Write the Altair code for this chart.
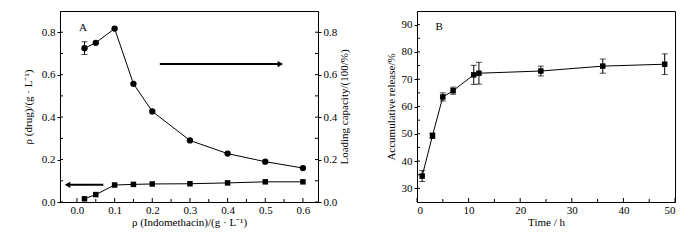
import altair as alt
import pandas as pd

# ---------------- data ----------------
conc = [0.02, 0.05, 0.1, 0.15, 0.2, 0.3, 0.4, 0.5, 0.6]
loading = [0.725, 0.75, 0.817, 0.557, 0.427, 0.29, 0.228, 0.19, 0.16]
loading_err = [0.03, 0, 0, 0, 0, 0, 0, 0, 0]
drug = [0.015, 0.035, 0.08, 0.083, 0.085, 0.086, 0.09, 0.095, 0.095]

time_h = [1, 3, 5, 7, 11, 12, 24, 36, 48]
release = [34.5, 49.3, 63.5, 65.8, 71.6, 72.2, 73.0, 74.8, 75.5]
release_err = [2.0, 1.0, 1.5, 1.3, 3.5, 4.0, 1.8, 2.6, 3.8]

a_xmajor = [0.0, 0.1, 0.2, 0.3, 0.4, 0.5, 0.6]
a_xminor = [0.05, 0.15, 0.25, 0.35, 0.45, 0.55]
a_ymajor = [0.0, 0.2, 0.4, 0.6, 0.8]
a_yminor = [0.1, 0.3, 0.5, 0.7]
b_xmajor = [0, 10, 20, 30, 40, 50]
b_xminor = [5, 15, 25, 35, 45]
b_ymajor = [30, 40, 50, 60, 70, 80, 90]
b_yminor = [35, 45, 55, 65, 75, 85]

arrow_right = {"x": [0.22, 0.54], "y": [0.65, 0.65]}
arrow_left = {"x": [0.07, -0.025], "y": [0.081, 0.081]}

W, H = 258, 191
FONT = "Liberation Serif"

# ---------------- panel A ----------------
xa = alt.Scale(domain=[-0.045, 0.64], nice=False, zero=False)
ya = alt.Scale(domain=[0, 0.9], nice=False)
AXA_X = alt.Axis(title="ρ (Indomethacin)/(g · L⁻¹)", values=a_xmajor, format=".1f", ticks=False)
AXA_Y = alt.Axis(title="ρ (drug)/(g · L⁻¹)", values=a_ymajor, format=".1f", ticks=True, tickSize=3,
                 titlePadding=8)


def XA(f):
    return alt.X(f, scale=xa, axis=AXA_X)


def YA(f):
    return alt.Y(f, scale=ya, axis=AXA_Y)


dfa = pd.DataFrame({"c": conc, "load": loading, "drug": drug,
                    "lo": [l - e for l, e in zip(loading, loading_err)],
                    "hi": [l + e for l, e in zip(loading, loading_err)],
                    "err": loading_err})

sq_line = alt.Chart(dfa).mark_line(color="black", strokeWidth=1).encode(x=XA("c:Q"), y=YA("drug:Q"))
sq_pts = alt.Chart(dfa).mark_square(color="black", opacity=1, size=30).encode(x=XA("c:Q"), y=YA("drug:Q"))
ci_line = alt.Chart(dfa).mark_line(color="black", strokeWidth=1).encode(x=XA("c:Q"), y=YA("load:Q"))
ci_pts = alt.Chart(dfa).mark_circle(color="black", opacity=1, size=40).encode(x=XA("c:Q"), y=YA("load:Q"))
dfa_err = dfa[dfa["err"] > 0]
ci_err = alt.Chart(dfa_err).mark_rule(color="black").encode(x=XA("c:Q"), y=YA("lo:Q"), y2="hi:Q")
ci_cap1 = alt.Chart(dfa_err).mark_tick(color="black", orient="horizontal", size=6, thickness=1).encode(
    x=XA("c:Q"), y=YA("lo:Q"))
ci_cap2 = alt.Chart(dfa_err).mark_tick(color="black", orient="horizontal", size=6, thickness=1).encode(
    x=XA("c:Q"), y=YA("hi:Q"))

dar = pd.DataFrame({"x": [arrow_right["x"][0]], "x2": [arrow_right["x"][1]], "y": [arrow_right["y"][0]]})
dal = pd.DataFrame({"x": [arrow_left["x"][0]], "x2": [arrow_left["x"][1]], "y": [arrow_left["y"][0]]})
ar_line = alt.Chart(dar).mark_rule(color="black", strokeWidth=2).encode(x=XA("x:Q"), x2="x2:Q", y=YA("y:Q"))
ar_head = alt.Chart(dar).mark_point(shape="triangle-right", filled=True, color="black", opacity=1, size=40).encode(
    x=XA("x2:Q"), y=YA("y:Q"))
al_line = alt.Chart(dal).mark_rule(color="black", strokeWidth=2).encode(x=XA("x:Q"), x2="x2:Q", y=YA("y:Q"))
al_head = alt.Chart(dal).mark_point(shape="triangle-left", filled=True, color="black", opacity=1, size=40).encode(
    x=XA("x2:Q"), y=YA("y:Q"))

lab_a = alt.Chart(pd.DataFrame({"x": [0.016], "y": [0.82], "t": ["A"]})).mark_text(
    font=FONT, fontSize=11, color="black").encode(x=XA("x:Q"), y=YA("y:Q"), text="t:N")


def xticks(vals, X, length):
    return alt.Chart(pd.DataFrame({"v": vals})).mark_rule(color="black").encode(
        x=X("v:Q"), y=alt.value(H), y2=alt.value(H - length))


def yticks_left(vals, Y, length):
    return alt.Chart(pd.DataFrame({"v": vals})).mark_rule(color="black").encode(
        y=Y("v:Q"), x=alt.value(0), x2=alt.value(length))


def yticks_right(vals, Y, length):
    return alt.Chart(pd.DataFrame({"v": vals})).mark_rule(color="black").encode(
        y=Y("v:Q"), x=alt.value(W), x2=alt.value(W - length))


left_a = alt.layer(sq_line, sq_pts, ci_line, ci_err, ci_cap1, ci_cap2, ci_pts,
                   ar_line, ar_head, al_line, al_head, lab_a,
                   xticks(a_xmajor, XA, 4), xticks(a_xminor, XA, 3),
                   yticks_left(a_ymajor, YA, 3), yticks_left(a_yminor, YA, 3),
                   yticks_right(a_ymajor, YA, 3), yticks_right(a_yminor, YA, 3))

right_axis = alt.Chart(dfa).mark_point(opacity=0).encode(
    x=XA("c:Q"),
    y=alt.Y("load:Q", scale=alt.Scale(domain=[0, 0.9], nice=False),
            axis=alt.Axis(orient="right", title="Loading capacity/(100/%)", titleAngle=270,
                          titleBaseline="top", titlePadding=2,
                          values=a_ymajor, format=".1f", ticks=True, tickSize=3)))

panel_a = alt.layer(left_a, right_axis).resolve_scale(y="independent").properties(width=W, height=H)

# ---------------- panel B ----------------
xb = alt.Scale(domain=[0, 50], nice=False)
yb = alt.Scale(domain=[25, 95], nice=False)
AXB_X = alt.Axis(title="Time / h", values=b_xmajor, ticks=False)
AXB_Y = alt.Axis(title="Accumulative release/%", values=b_ymajor, ticks=True, tickSize=3, titlePadding=5)


def XB(f):
    return alt.X(f, scale=xb, axis=AXB_X)


def YB(f):
    return alt.Y(f, scale=yb, axis=AXB_Y)


dfb = pd.DataFrame({"t": time_h, "r": release,
                    "lo": [r - e for r, e in zip(release, release_err)],
                    "hi": [r + e for r, e in zip(release, release_err)]})

b_line = alt.Chart(dfb).mark_line(color="black", strokeWidth=1).encode(x=XB("t:Q"), y=YB("r:Q"))
b_err = alt.Chart(dfb).mark_rule(color="black").encode(x=XB("t:Q"), y=YB("lo:Q"), y2="hi:Q")
b_cap1 = alt.Chart(dfb).mark_tick(color="black", orient="horizontal", size=6, thickness=1).encode(
    x=XB("t:Q"), y=YB("lo:Q"))
b_cap2 = alt.Chart(dfb).mark_tick(color="black", orient="horizontal", size=6, thickness=1).encode(
    x=XB("t:Q"), y=YB("hi:Q"))
b_pts = alt.Chart(dfb).mark_square(color="black", opacity=1, size=30).encode(x=XB("t:Q"), y=YB("r:Q"))
lab_b = alt.Chart(pd.DataFrame({"x": [4.3], "y": [89], "t": ["B"]})).mark_text(
    font=FONT, fontSize=11, color="black").encode(x=XB("x:Q"), y=YB("y:Q"), text="t:N")

panel_b = alt.layer(b_line, b_err, b_cap1, b_cap2, b_pts, lab_b,
                    xticks(b_xmajor, XB, 4), xticks(b_xminor, XB, 3),
                    yticks_left(b_ymajor, YB, 3), yticks_left(b_yminor, YB, 3)
                    ).properties(width=W, height=H)

chart = alt.hconcat(panel_a, panel_b, spacing=33).properties(
    padding={"left": 13, "top": 2, "right": 5, "bottom": 2}
).configure_view(stroke="black", strokeWidth=1).configure_axis(
    labelFont=FONT, titleFont=FONT, labelFontSize=11, titleFontSize=11,
    titleFontWeight="normal", labelColor="black", titleColor="black",
    domainColor="black", tickColor="black", grid=False, labelPadding=2, titlePadding=1
)

chart.save("out.html", embed_options={"renderer": "svg", "actions": False})
